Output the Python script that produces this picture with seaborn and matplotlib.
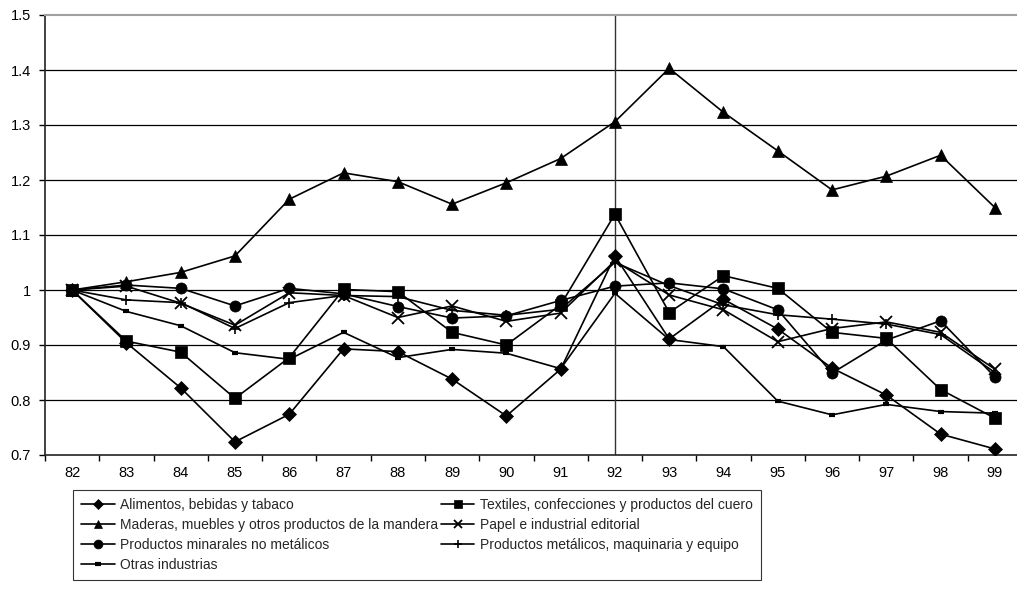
import matplotlib
matplotlib.use("Agg")
import matplotlib.pyplot as plt
from matplotlib import font_manager
import seaborn as sns
import pandas as pd
import numpy as np

years = ["82", "83", "84", "85", "86", "87", "88", "89", "90",
         "91", "92", "93", "94", "95", "96", "97", "98", "99"]

alimentos = [1.000, 0.904, 0.822, 0.724, 0.774, 0.893, 0.888, 0.838, 0.771,
             0.856, 1.062, 0.911, 0.983, 0.929, 0.858, 0.809, 0.738, 0.711]
textiles = [1.000, 0.907, 0.887, 0.803, 0.877, 1.001, 0.997, 0.923, 0.900,
            0.973, 1.138, 0.959, 1.026, 1.003, 0.923, 0.912, 0.819, 0.767]
maderas = [1.000, 1.015, 1.032, 1.062, 1.165, 1.213, 1.197, 1.156, 1.195,
           1.239, 1.306, 1.403, 1.323, 1.253, 1.182, 1.207, 1.245, 1.150]
papel = [1.000, 1.007, 0.976, 0.936, 0.995, 0.990, 0.950, 0.971, 0.943,
         0.958, 1.053, 0.991, 0.964, 0.906, 0.930, 0.942, 0.923, 0.856]
minerales = [1.000, 1.009, 1.003, 0.971, 1.003, 0.993, 0.970, 0.949, 0.953,
             0.981, 1.007, 1.013, 1.002, 0.964, 0.849, 0.909, 0.944, 0.842]
metalicos = [1.000, 0.982, 0.977, 0.930, 0.977, 0.990, 0.988, 0.963, 0.954,
             0.965, 1.050, 1.008, 0.973, 0.955, 0.947, 0.938, 0.919, 0.850]
otras = [1.000, 0.961, 0.935, 0.886, 0.874, 0.923, 0.877, 0.892, 0.885,
         0.857, 0.994, 0.910, 0.897, 0.798, 0.773, 0.792, 0.779, 0.776]

series_names = [
    "Alimentos, bebidas y tabaco",
    "Textiles, confecciones y productos del cuero",
    "Maderas, muebles y otros productos de la mandera",
    "Papel e industrial editorial",
    "Productos minarales no metálicos",
    "Productos metálicos, maquinaria y equipo",
    "Otras industrias",
]
series_values = [alimentos, textiles, maderas, papel, minerales, metalicos, otras]
y_ticks = [0.7, 0.8, 0.9, 1.0, 1.1, 1.2, 1.3, 1.4, 1.5]
y_tick_labels = ["0.7", "0.8", "0.9", "1", "1.1", "1.2", "1.3", "1.4", "1.5"]
marker_year = "92"

sns.set_theme(style="white")
installed = {f.name for f in font_manager.fontManager.ttflist}
family = ["Liberation Sans Narrow", "Liberation Sans", "DejaVu Sans"]
family = [f for f in family if f in installed] or ["DejaVu Sans"]
plt.rcParams["font.family"] = family

rows = []
for name, vals in zip(series_names, series_values):
    for i, v in enumerate(vals):
        rows.append({"serie": name, "pos": i, "valor": v})
df = pd.DataFrame(rows)

styles = {
    series_names[0]: dict(marker="D", ms=7, mew=0.5),
    series_names[1]: dict(marker="s", ms=8, mew=0.5),
    series_names[2]: dict(marker="^", ms=8, mew=0.5),
    series_names[3]: dict(marker="x", ms=8, mew=1.3),
    series_names[4]: dict(marker="o", ms=8, mew=0.5),
    series_names[5]: dict(marker="+", ms=7, mew=1.2),
    series_names[6]: dict(marker="_", ms=5, mew=3),
}

W, H = 1017, 599
fig = plt.figure(figsize=(W / 100, H / 100), dpi=100)
ax = fig.add_axes([45 / W, 1 - 455 / H, (1022 - 45) / W, (455 - 15) / H])

handles = {}
for name in series_names:
    st = styles[name]
    sub = df[df["serie"] == name]
    sns.lineplot(data=sub, x="pos", y="valor", ax=ax, color="black",
                 linewidth=1.2, marker=st["marker"], markersize=st["ms"],
                 markeredgewidth=st["mew"], markeredgecolor="black",
                 markerfacecolor="black", label=name, legend=False, zorder=3)
    handles[name] = ax.lines[-1]

ax.set_xlim(-0.5, len(years) - 0.5)
ax.set_ylim(0.7, 1.5)
ax.set_yticks(y_ticks)
ax.set_yticklabels(y_tick_labels)
ax.set_xticks(range(len(years)))
ax.set_xticklabels(years)
ax.set_xticks(np.arange(-0.5, len(years)), minor=True)
ax.tick_params(axis="x", which="major", length=0, pad=8, labelsize=10.5, colors="black")
ax.tick_params(axis="x", which="minor", length=4, width=1, color="black", direction="out", bottom=True)
ax.tick_params(axis="y", which="major", length=4, width=1, color="black", direction="out",
               left=True, pad=6, labelsize=10.5, labelcolor="black")
ax.set_xlabel("")
ax.set_ylabel("")

for yv in y_ticks[1:-1]:
    ax.axhline(yv, color="black", linewidth=0.9, zorder=1)
ax.axvline(years.index(marker_year), color="#333333", linewidth=1.0, zorder=1)

for side in ["left", "bottom"]:
    ax.spines[side].set_color("#222222")
    ax.spines[side].set_linewidth(1.2)
ax.spines["top"].set_color("#a0a0a0")
ax.spines["top"].set_linewidth(1.5)
ax.spines["right"].set_visible(False)

order = [series_names[i] for i in [0, 2, 4, 6, 1, 3, 5]]
leg = fig.legend([handles[n] for n in order], order, ncol=2,
                 loc="upper left", bbox_to_anchor=(73 / W, 1 - 490 / H),
                 frameon=True, fancybox=False, fontsize=10,
                 handlelength=2.4, handletextpad=0.4, columnspacing=0.2,
                 labelspacing=0.42, borderpad=0.6, borderaxespad=0)
leg.get_frame().set_edgecolor("black")
leg.get_frame().set_linewidth(0.8)
for h in leg.legend_handles:
    h.set_markersize(h.get_markersize() * 0.8)

fig.savefig("out.png", dpi=100)
